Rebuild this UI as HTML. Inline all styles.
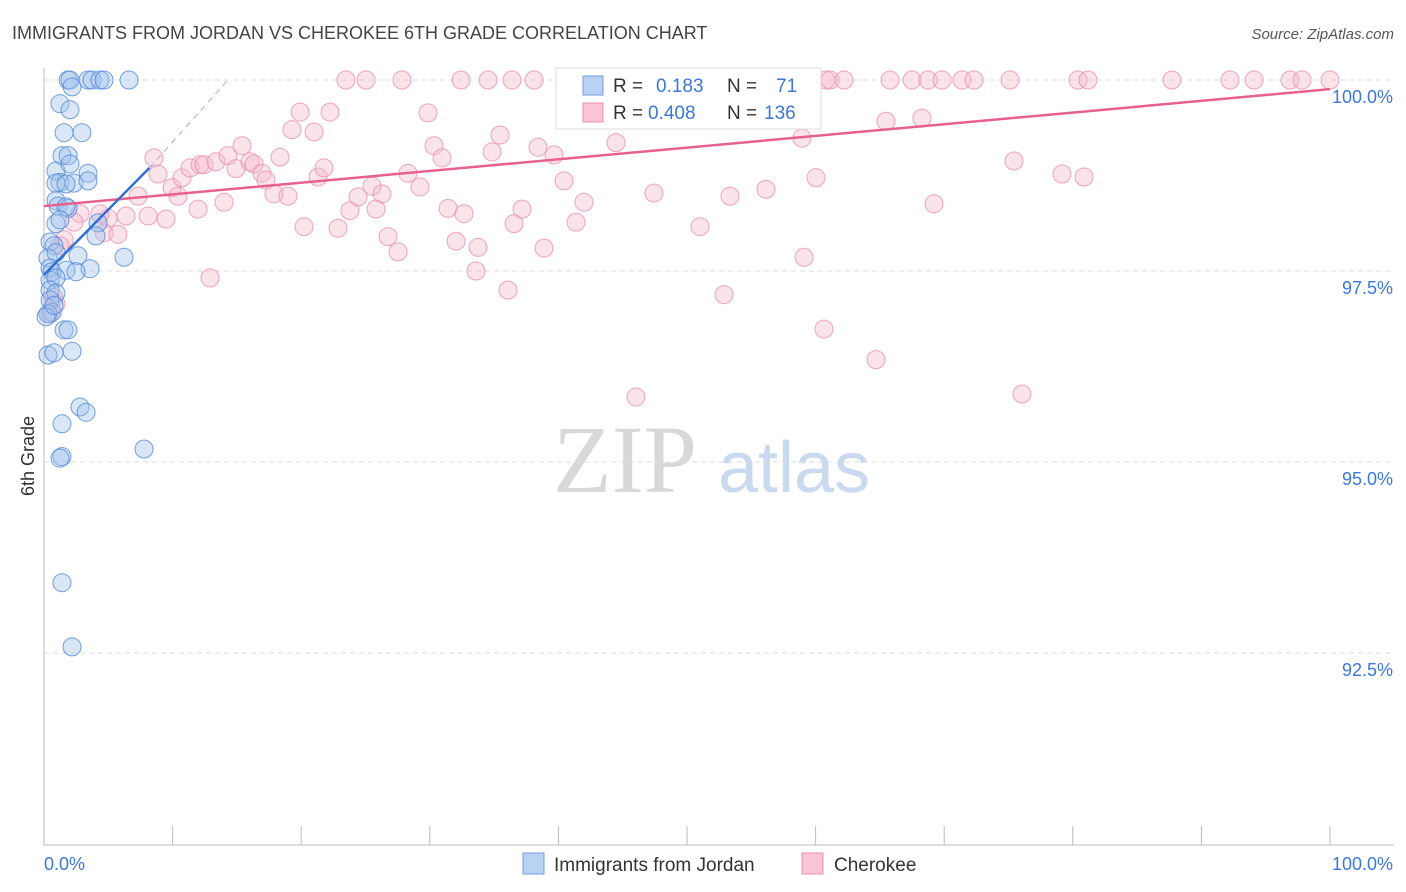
<!DOCTYPE html>
<html><head><meta charset="utf-8"><style>
body{margin:0;background:#fff;font-family:"Liberation Sans",sans-serif}
svg{display:block}
</style></head><body>
<svg id="chart" width="1406" height="892">
<text x="12" y="39" font-size="18" fill="#444">IMMIGRANTS FROM JORDAN VS CHEROKEE 6TH GRADE CORRELATION CHART</text>
<text x="1394" y="39" font-size="15" fill="#555" font-style="italic" text-anchor="end">Source: ZipAtlas.com</text>
<g>
<text x="553" y="492" font-size="96" fill="#d8d8d8" font-family="Liberation Serif,serif">ZIP</text>
<text x="718" y="492" font-size="72" fill="#c9d9ef">atlas</text>
</g>
<g id="grid"></g>
<g id="axes"></g>
<g id="pinkPts"></g>
<g id="bluePts"></g>
<g id="trends"></g>
<text transform="translate(34,456) rotate(-90)" font-size="18" fill="#333" text-anchor="middle">6th Grade</text>
<g>
<rect x="556" y="68" width="265" height="61" fill="#fff" stroke="#ddd"/>
<rect x="583" y="76" width="20" height="19" fill="#b9d1f3" stroke="#6f9ee0"/>
<rect x="583" y="103" width="20" height="19" fill="#f9c6d6" stroke="#eb8fae"/>
<text x="613" y="92" font-size="19" fill="#333">R =</text>
<text x="656" y="92" font-size="19" fill="#3b78d8">0.183</text>
<text x="727" y="92" font-size="19" fill="#333">N =</text>
<text x="776" y="92" font-size="19" fill="#3b78d8">71</text>
<text x="613" y="119" font-size="19" fill="#333">R =</text>
<text x="648" y="119" font-size="19" fill="#3b78d8">0.408</text>
<text x="727" y="119" font-size="19" fill="#333">N =</text>
<text x="764" y="119" font-size="19" fill="#3b78d8">136</text>
</g>
<g>
<rect x="523" y="853" width="21" height="21" fill="#b9d1f3" stroke="#6f9ee0"/>
<text x="554" y="871" font-size="19" fill="#333">Immigrants from Jordan</text>
<rect x="802" y="853" width="21" height="21" fill="#f9c6d6" stroke="#eb8fae"/>
<text x="834" y="871" font-size="19" fill="#333">Cherokee</text>
</g>
</svg>
<script>
const yTicks=[100,97.5,95,92.5];
const yTickLabels=["100.0%","97.5%","95.0%","92.5%"];
const blueX=[1.87,2.02,3.42,3.73,4.35,4.67,6.61,2.18,1.24,2.02,1.56,2.95,1.4,1.87,0.93,3.42,2.02,1.24,2.33,3.42,0.93,1.71,0.93,1.09,1.87,1.71,0.93,1.24,4.2,4.04,0.47,0.78,0.31,0.93,2.64,6.22,0.47,0.62,1.71,3.58,2.49,0.47,0.93,0.47,0.93,0.47,0.62,0.31,1.56,1.87,0.31,0.78,2.18,2.8,3.27,1.4,1.4,1.24,7.78,1.4,2.18,0.16,0.78];
const blueY=[100,100,100,100,100,100,100,99.91,99.69,99.61,99.31,99.31,99.01,99.01,98.81,98.78,98.9,98.66,98.65,98.68,98.65,98.64,98.42,98.35,98.32,98.34,98.12,98.17,98.13,97.96,97.88,97.83,97.67,97.74,97.7,97.68,97.54,97.49,97.51,97.53,97.49,97.38,97.41,97.25,97.21,97.12,96.96,96.94,96.73,96.73,96.4,96.43,96.45,95.72,95.65,95.5,95.07,95.05,95.17,93.42,92.58,96.9,97.05];
const pinkTopX=[23.48,25.04,27.84,32.43,34.53,36.39,38.1,46.27,47.28,48.52,51.01,52.41,55.05,56.92,58.79,60.81,61.12,62.21,65.79,67.5,68.74,69.83,71.38,72.32,75.12,80.4,81.18,87.71,92.22,94.09,96.89,97.82,100];
const pinkX=[8.55,8.86,7.31,9.95,10.42,10.73,11.35,12.13,12.44,13.37,11.98,9.49,8.09,6.38,4.98,4.35,2.8,2.33,4.67,5.75,1.56,1.24,0.78,0.93,0.47,12.91,14.31,14.93,15.4,16.02,16.33,16.95,17.26,18.35,17.88,18.97,14.0,19.28,19.91,21.0,21.31,21.77,20.22,22.86,23.79,24.42,25.51,26.28,25.82,26.75,27.53,22.24,28.3,29.24,29.86,30.33,30.95,31.42,32.66,32.04,33.59,33.75,34.84,35.46,36.08,36.55,37.17,38.41,38.88,39.66,40.44,41.37,41.99,44.48,46.03,47.43,51.01,52.88,53.34,56.14,58.94,59.1,60.03,60.65,64.7,65.47,68.27,69.21,75.43,76.05,79.16,80.87];
const pinkY=[98.98,98.77,98.48,98.59,98.48,98.72,98.85,98.89,98.89,98.93,98.31,98.18,98.22,98.22,98.19,98.25,98.25,98.14,98.0,97.98,97.91,97.83,97.15,97.07,96.94,97.41,99.01,98.84,99.14,98.93,98.9,98.78,98.69,98.99,98.51,98.48,98.4,99.35,99.58,99.32,98.73,98.85,98.08,98.06,98.29,98.47,98.61,98.51,98.31,97.95,97.75,99.58,98.78,98.6,99.57,99.14,98.98,98.32,98.25,97.89,97.5,97.81,99.06,99.28,97.25,98.12,98.31,99.12,97.8,99.02,98.68,98.14,98.4,99.18,95.85,98.52,98.08,97.19,98.48,98.57,99.24,97.68,98.72,96.74,96.34,99.46,99.5,98.38,98.94,95.89,98.77,98.73];
const pinkTrend=[[0,98.35],[100,99.88]];
const blueTrend=[[0,97.45],[8.2,98.85]];
const blueDash=[[8.2,98.85],[14.3,100]];

const NS="http://www.w3.org/2000/svg";
const X=v=>44+v*12.86, Y=v=>80+(100-v)*76.4;
function mk(tag,parent,attrs){const e=document.createElementNS(NS,tag);for(const k in attrs)e.setAttribute(k,attrs[k]);document.getElementById(parent).appendChild(e);return e;}
yTicks.forEach((t,i)=>{
  const l=mk('line','grid',{x1:44,x2:1394,y1:Y(t),y2:Y(t),stroke:'#ddd','stroke-dasharray':'5,4'});
  
  
  const tx=mk('text','grid',{x:1393,y:Y(t)+23,'font-size':18,fill:'#3b78d8','text-anchor':'end'});
  tx.textContent=yTickLabels[i];
  
  
});
const ya=mk('line','axes',{x1:44,x2:44,y1:68,y2:845,stroke:'#bbb'});


const xa=mk('line','axes',{x1:44,x2:1394,y1:845,y2:845,stroke:'#bbb'});


for(let i=0;i<=10;i++){
  const t=mk('line','axes',{x1:X(i*10),x2:X(i*10),y1:826,y2:845,stroke:'#bbb'});
  
  
}
const xl0=mk('text','axes',{x:44,y:870,'font-size':18,fill:'#3b78d8'});xl0.textContent='0.0%';


const xl1=mk('text','axes',{x:1393,y:870,'font-size':18,fill:'#3b78d8','text-anchor':'end'});xl1.textContent='100.0%';


function dot(g,x,y,fill,stroke,name){
  const c=mk('circle',g,{cx:X(x),cy:Y(y),r:9,fill:fill,'fill-opacity':0.4,stroke:stroke,'stroke-opacity':0.8,'stroke-width':1});
  
  
}
pinkTopX.forEach(x=>dot('pinkPts',x,100,'#f5b8cb','#eb8fae','cherokee-point'));
pinkX.forEach((x,i)=>dot('pinkPts',x,pinkY[i],'#f5b8cb','#eb8fae','cherokee-point'));
blueX.forEach((x,i)=>dot('bluePts',x,blueY[i],'#9fc0ec','#4f88d8','jordan-point'));
const pl=mk('line','trends',{x1:X(pinkTrend[0][0]),y1:Y(pinkTrend[0][1]),x2:X(pinkTrend[1][0]),y2:Y(pinkTrend[1][1]),stroke:'#e8608c','stroke-width':2.5});


const bl=mk('line','trends',{x1:X(blueTrend[0][0]),y1:Y(blueTrend[0][1]),x2:X(blueTrend[1][0]),y2:Y(blueTrend[1][1]),stroke:'#2f6fd6','stroke-width':2.5});


const bd=mk('line','trends',{x1:X(blueDash[0][0]),y1:Y(blueDash[0][1]),x2:X(blueDash[1][0]),y2:Y(blueDash[1][1]),stroke:'#9ab4dd','stroke-width':1,'stroke-dasharray':'6,5'});


</script>
</body></html>
